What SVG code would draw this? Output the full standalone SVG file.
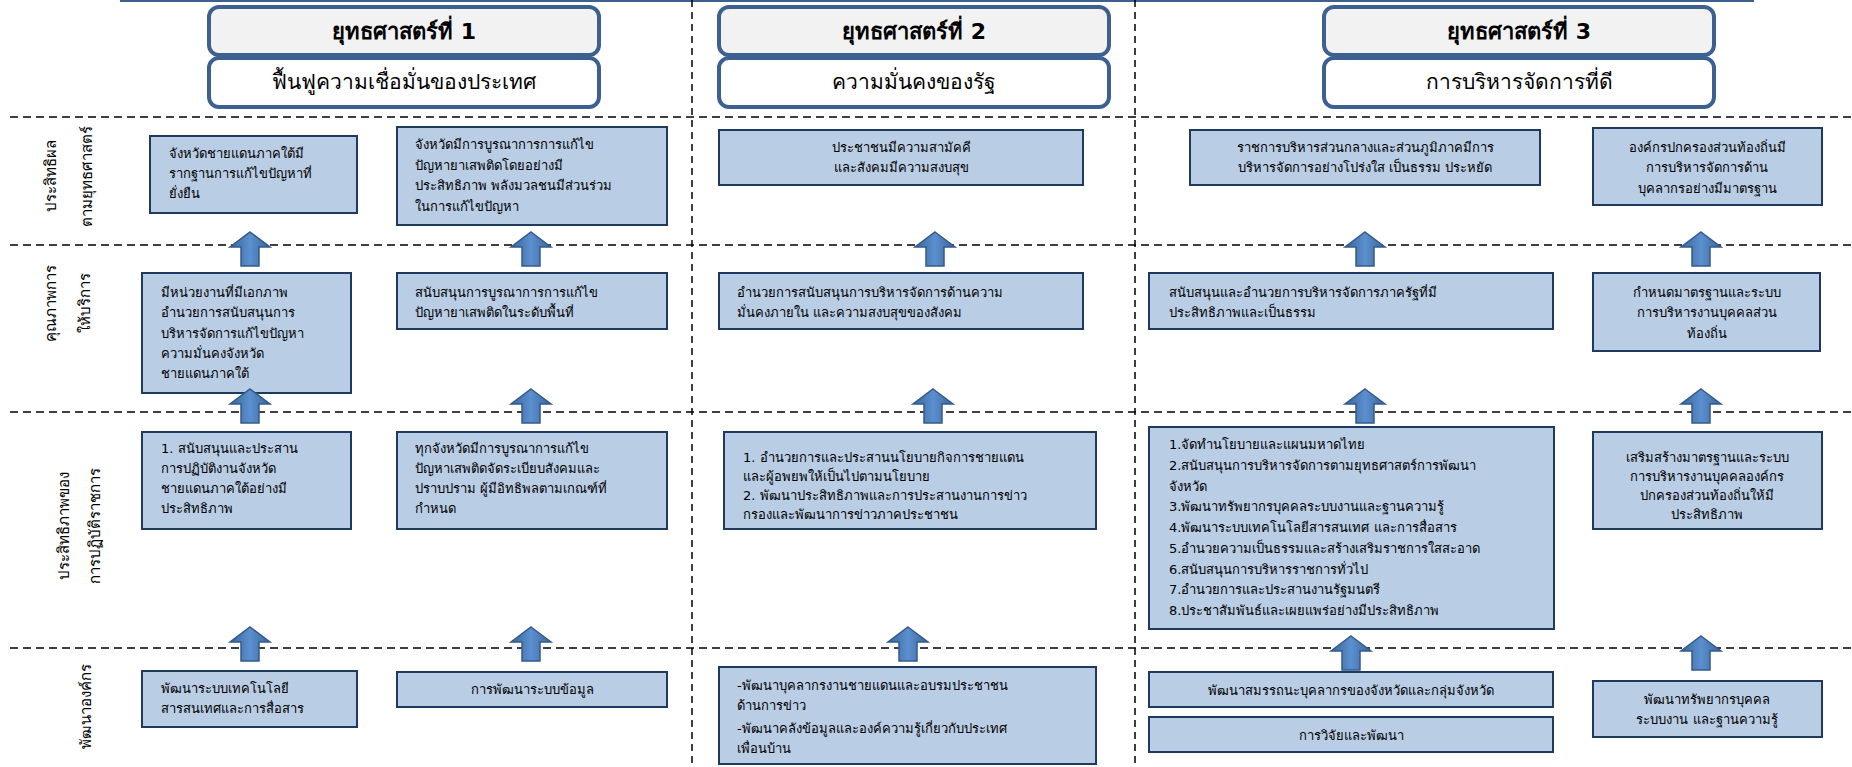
<svg xmlns="http://www.w3.org/2000/svg" width="1852" height="767" viewBox="0 0 1852 767">
<defs>
<style>
.t{font-family:"DejaVu Sans","Noto Sans",sans-serif;font-size:13px;fill:#000}
.c{text-anchor:middle}
.lbl{font-family:"DejaVu Sans","Noto Sans",sans-serif;font-size:15px;fill:#000;text-anchor:middle}
.hdt{font-family:"DejaVu Sans","Noto Sans",sans-serif;font-size:22px;font-weight:bold;fill:#000;text-anchor:middle}
.hds{font-family:"DejaVu Sans","Noto Sans",sans-serif;font-size:21px;fill:#000;text-anchor:middle}
.box{fill:#b9cde5;stroke:#1f3a60;stroke-width:2}
.h1{fill:#f2f2f2;stroke:#3c6191;stroke-width:4}
.h2{fill:#ffffff;stroke:#3c6191;stroke-width:4}
.dash{stroke:#000;stroke-width:1.5;stroke-dasharray:8 5;fill:none}
.vdash{stroke:#000;stroke-width:1.5;stroke-dasharray:7 5;fill:none}
.arr{fill:url(#ag);stroke:#34598a;stroke-width:1.5}
</style>
<linearGradient id="ag" x1="0" y1="0" x2="1" y2="0">
<stop offset="0" stop-color="#3a6699"/>
<stop offset="0.5" stop-color="#5b8fcf"/>
<stop offset="1" stop-color="#3a6699"/>
</linearGradient>
<path id="arrow" class="arr" d="M0,0 L20,15 L9,15 L9,34 L-9,34 L-9,15 L-20,15 Z"/>
</defs>
<rect width="1852" height="767" fill="#ffffff"/>

<g id="grid">
<line x1="120" y1="0" x2="1754" y2="0" stroke="#3c6191" stroke-width="4"/>
<line class="dash" x1="10" y1="117" x2="1852" y2="117"/>
<line class="dash" x1="10" y1="245" x2="1852" y2="245"/>
<line class="dash" x1="10" y1="412" x2="1852" y2="412"/>
<line class="dash" x1="10" y1="648" x2="1852" y2="648"/>
<line class="vdash" x1="692" y1="0" x2="692" y2="767"/>
<line class="vdash" x1="1135" y1="0" x2="1135" y2="767"/>
</g>

<g id="row-labels">
<text class="lbl" transform="translate(56,176) rotate(-90)">ประสิทธิผล</text>
<text class="lbl" transform="translate(92,176) rotate(-90)">ตามยุทธศาสตร์</text>
<text class="lbl" transform="translate(56,303) rotate(-90)">คุณภาพการ</text>
<text class="lbl" transform="translate(90,303) rotate(-90)">ให้บริการ</text>
<text class="lbl" transform="translate(69,526) rotate(-90)">ประสิทธิภาพของ</text>
<text class="lbl" transform="translate(100,526) rotate(-90)">การปฏิบัติราชการ</text>
<text class="lbl" transform="translate(91,706) rotate(-90)">พัฒนาองค์กร</text>
</g>

<g id="strategy1">
<rect class="h1" x="209" y="7" width="390" height="48" rx="10"/>
<rect class="h2" x="209" y="58" width="390" height="49" rx="10"/>
<text class="hdt" x="404" y="39">ยุทธศาสตร์ที่ 1</text>
<text class="hds" x="404" y="89">ฟื้นฟูความเชื่อมั่นของประเทศ</text>
</g>
<g id="strategy2">
<rect class="h1" x="719" y="7" width="390" height="48" rx="10"/>
<rect class="h2" x="719" y="58" width="390" height="49" rx="10"/>
<text class="hdt" x="914" y="39">ยุทธศาสตร์ที่ 2</text>
<text class="hds" x="914" y="89">ความมั่นคงของรัฐ</text>
</g>
<g id="strategy3">
<rect class="h1" x="1324" y="7" width="390" height="48" rx="10"/>
<rect class="h2" x="1324" y="58" width="390" height="49" rx="10"/>
<text class="hdt" x="1519" y="39">ยุทธศาสตร์ที่ 3</text>
<text class="hds" x="1519" y="89">การบริหารจัดการที่ดี</text>
</g>

<g id="n-a">
<rect class="box" x="150" y="136" width="207" height="77"/>
<text class="t"><tspan x="169" y="158">จังหวัดชายแดนภาคใต้มี</tspan><tspan x="169" y="178">รากฐานการแก้ไขปัญหาที่</tspan><tspan x="169" y="198">ยั่งยืน</tspan></text>
</g>
<g id="n-b">
<rect class="box" x="397" y="127" width="270" height="98"/>
<text class="t"><tspan x="415" y="149">จังหวัดมีการบูรณาการการแก้ไข</tspan><tspan x="415" y="170">ปัญหายาเสพติดโดยอย่างมี</tspan><tspan x="415" y="190">ประสิทธิภาพ พลังมวลชนมีส่วนร่วม</tspan><tspan x="415" y="211">ในการแก้ไขปัญหา</tspan></text>
</g>
<g id="n-c">
<rect class="box" x="142" y="273" width="209" height="120"/>
<text class="t"><tspan x="161" y="297">มีหน่วยงานที่มีเอกภาพ</tspan><tspan x="161" y="317">อำนวยการสนับสนุนการ</tspan><tspan x="161" y="338">บริหารจัดการแก้ไขปัญหา</tspan><tspan x="161" y="358">ความมั่นคงจังหวัด</tspan><tspan x="161" y="378">ชายแดนภาคใต้</tspan></text>
</g>
<g id="n-d">
<rect class="box" x="397" y="273" width="270" height="56"/>
<text class="t"><tspan x="415" y="297">สนับสนุนการบูรณาการการแก้ไข</tspan><tspan x="415" y="317">ปัญหายาเสพติดในระดับพื้นที่</tspan></text>
</g>
<g id="n-e">
<rect class="box" x="142" y="432" width="209" height="97"/>
<text class="t"><tspan x="161" y="453">1. สนับสนุนและประสาน</tspan><tspan x="161" y="473">การปฏิบัติงานจังหวัด</tspan><tspan x="161" y="493">ชายแดนภาคใต้อย่างมี</tspan><tspan x="161" y="513">ประสิทธิภาพ</tspan></text>
</g>
<g id="n-f">
<rect class="box" x="397" y="432" width="270" height="97"/>
<text class="t"><tspan x="415" y="453">ทุกจังหวัดมีการบูรณาการแก้ไข</tspan><tspan x="415" y="473">ปัญหาเสพติดจัดระเบียบสังคมและ</tspan><tspan x="415" y="493">ปราบปราม ผู้มีอิทธิพลตามเกณฑ์ที่</tspan><tspan x="415" y="513">กำหนด</tspan></text>
</g>
<g id="n-g">
<rect class="box" x="142" y="671" width="215" height="56"/>
<text class="t"><tspan x="161" y="693">พัฒนาระบบเทคโนโลยี</tspan><tspan x="161" y="713">สารสนเทศและการสื่อสาร</tspan></text>
</g>
<g id="n-h">
<rect class="box" x="397" y="672" width="270" height="35"/>
<text class="t c" x="532" y="694">การพัฒนาระบบข้อมูล</text>
</g>

<g id="n-i">
<rect class="box" x="719" y="130" width="364" height="55"/>
<text class="t c"><tspan x="901" y="152">ประชาชนมีความสามัคคี</tspan><tspan x="901" y="172">และสังคมมีความสงบสุข</tspan></text>
</g>
<g id="n-j">
<rect class="box" x="719" y="273" width="364" height="56"/>
<text class="t"><tspan x="737" y="297">อำนวยการสนับสนุนการบริหารจัดการด้านความ</tspan><tspan x="737" y="317">มั่นคงภายใน และความสงบสุขของสังคม</tspan></text>
</g>
<g id="n-k">
<rect class="box" x="724" y="432" width="372" height="97"/>
<text class="t"><tspan x="743" y="462">1. อำนวยการและประสานนโยบายกิจการชายแดน</tspan><tspan x="743" y="481">และผู้อพยพให้เป็นไปตามนโยบาย</tspan><tspan x="743" y="500">2. พัฒนาประสิทธิภาพและการประสานงานการข่าว</tspan><tspan x="743" y="519">กรองและพัฒนาการข่าวภาคประชาชน</tspan></text>
</g>
<g id="n-u">
<rect class="box" x="719" y="667" width="377" height="97"/>
<text class="t"><tspan x="737" y="690">-พัฒนาบุคลากรงานชายแดนและอบรมประชาชน</tspan><tspan x="737" y="710">ด้านการข่าว</tspan><tspan x="737" y="733">-พัฒนาคลังข้อมูลและองค์ความรู้เกี่ยวกับประเทศ</tspan><tspan x="737" y="753">เพื่อนบ้าน</tspan></text>
</g>

<g id="n-m">
<rect class="box" x="1190" y="130" width="350" height="55"/>
<text class="t c"><tspan x="1365" y="152">ราชการบริหารส่วนกลางและส่วนภูมิภาคมีการ</tspan><tspan x="1365" y="172">บริหารจัดการอย่างโปร่งใส เป็นธรรม ประหยัด</tspan></text>
</g>
<g id="n-n">
<rect class="box" x="1593" y="128" width="229" height="77"/>
<text class="t c"><tspan x="1707" y="152">องค์กรปกครองส่วนท้องถิ่นมี</tspan><tspan x="1707" y="172">การบริหารจัดการด้าน</tspan><tspan x="1707" y="193">บุคลากรอย่างมีมาตรฐาน</tspan></text>
</g>
<g id="n-o">
<rect class="box" x="1149" y="273" width="404" height="56"/>
<text class="t"><tspan x="1169" y="297">สนับสนุนและอำนวยการบริหารจัดการภาครัฐที่มี</tspan><tspan x="1169" y="317">ประสิทธิภาพและเป็นธรรม</tspan></text>
</g>
<g id="n-p">
<rect class="box" x="1593" y="273" width="227" height="78"/>
<text class="t c"><tspan x="1707" y="297">กำหนดมาตรฐานและระบบ</tspan><tspan x="1707" y="317">การบริหารงานบุคคลส่วน</tspan><tspan x="1707" y="338">ท้องถิ่น</tspan></text>
</g>
<g id="n-l">
<rect class="box" x="1149" y="427" width="405" height="202"/>
<text class="t"><tspan x="1169" y="449">1.จัดทำนโยบายและแผนมหาดไทย</tspan><tspan x="1169" y="470">2.สนับสนุนการบริหารจัดการตามยุทธศาสตร์การพัฒนา</tspan><tspan x="1169" y="491">จังหวัด</tspan><tspan x="1169" y="511">3.พัฒนาทรัพยากรบุคคลระบบงานและฐานความรู้</tspan><tspan x="1169" y="532">4.พัฒนาระบบเทคโนโลยีสารสนเทศ และการสื่อสาร</tspan><tspan x="1169" y="553">5.อำนวยความเป็นธรรมและสร้างเสริมราชการใสสะอาด</tspan><tspan x="1169" y="574">6.สนับสนุนการบริหารราชการทั่วไป</tspan><tspan x="1169" y="594">7.อำนวยการและประสานงานรัฐมนตรี</tspan><tspan x="1169" y="615">8.ประชาสัมพันธ์และเผยแพร่อย่างมีประสิทธิภาพ</tspan></text>
</g>
<g id="n-q">
<rect class="box" x="1593" y="432" width="229" height="97"/>
<text class="t c"><tspan x="1707" y="462">เสริมสร้างมาตรฐานและระบบ</tspan><tspan x="1707" y="481">การบริหารงานบุคคลองค์กร</tspan><tspan x="1707" y="500">ปกครองส่วนท้องถิ่นให้มี</tspan><tspan x="1707" y="519">ประสิทธิภาพ</tspan></text>
</g>
<g id="n-r">
<rect class="box" x="1149" y="672" width="404" height="35"/>
<text class="t c" x="1351" y="695">พัฒนาสมรรถนะบุคลากรของจังหวัดและกลุ่มจังหวัด</text>
</g>
<g id="n-s">
<rect class="box" x="1149" y="717" width="404" height="35"/>
<text class="t c" x="1351" y="740">การวิจัยและพัฒนา</text>
</g>
<g id="n-t">
<rect class="box" x="1593" y="681" width="229" height="56"/>
<text class="t c"><tspan x="1707" y="704">พัฒนาทรัพยากรบุคคล</tspan><tspan x="1707" y="724">ระบบงาน และฐานความรู้</tspan></text>
</g>

<g id="connectors">
<use href="#arrow" x="250" y="232"/>
<use href="#arrow" x="531" y="232"/>
<use href="#arrow" x="250" y="389"/>
<use href="#arrow" x="531" y="389"/>
<use href="#arrow" x="250" y="627"/>
<use href="#arrow" x="531" y="627"/>
<use href="#arrow" x="935" y="232"/>
<use href="#arrow" x="933" y="389"/>
<use href="#arrow" x="908" y="627"/>
<use href="#arrow" x="1365" y="232"/>
<use href="#arrow" x="1701" y="232"/>
<use href="#arrow" x="1365" y="389"/>
<use href="#arrow" x="1701" y="389"/>
<use href="#arrow" x="1351" y="636"/>
<use href="#arrow" x="1701" y="636"/>
</g>
</svg>
